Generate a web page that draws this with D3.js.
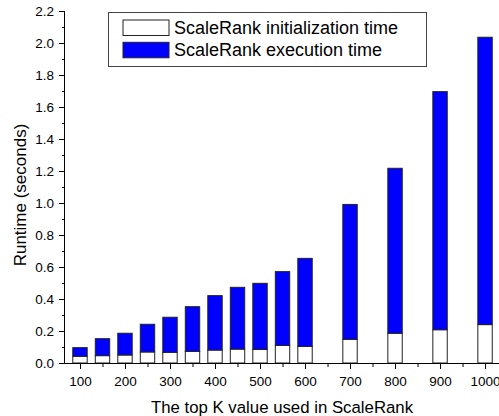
<!DOCTYPE html>
<html>
<head>
<meta charset="utf-8">
<script src="https://cdn.jsdelivr.net/npm/d3@7"></script>
<style>
body { margin: 0; background: #fff; }
text { font-family: "Liberation Sans", Arial, sans-serif; fill: #000; }
</style>
</head>
<body>
<div id="chart"></div>
<script>
// top K values (categories)
var kValues = [100, 150, 200, 250, 300, 350, 400, 450, 500, 550, 600, 700, 800, 900, 1000];
// runtime in seconds
var initTime = [0.042, 0.046, 0.050, 0.069, 0.067, 0.073, 0.081, 0.087, 0.085, 0.110, 0.104, 0.148, 0.186, 0.208, 0.240];
var execTime = [0.054, 0.106, 0.136, 0.173, 0.219, 0.279, 0.340, 0.386, 0.413, 0.461, 0.550, 0.843, 1.031, 1.488, 1.796];
var xMajorTicks = [100, 200, 300, 400, 500, 600, 700, 800, 900, 1000];
var xMinorTicks = [150, 250, 350, 450, 550, 650, 750, 850, 950];
var yMajorTicks = [0, 0.2, 0.4, 0.6, 0.8, 1.0, 1.2, 1.4, 1.6, 1.8, 2.0, 2.2];
var yMinorTicks = [0.1, 0.3, 0.5, 0.7, 0.9, 1.1, 1.3, 1.5, 1.7, 1.9, 2.1];
var seriesNames = ["ScaleRank initialization time", "ScaleRank execution time"];
var seriesColors = ["#ffffff", "#0000ff"];

var W = 499, H = 416;
var margin = {top: 11, right: 0, bottom: 53, left: 65};
var width = W - margin.left - margin.right,
    height = H - margin.top - margin.bottom;

var svg = d3.select("#chart").append("svg")
    .attr("width", W)
    .attr("height", H);

var g = svg.append("g")
    .attr("transform", "translate(" + margin.left + "," + margin.top + ")");

var x = d3.scaleLinear().domain([66.7, 1031]).range([0, width]);
var y = d3.scaleLinear().domain([0, 2.2]).range([height, 0]);
var barW = x(132) - x(100);

// stack the two series
var rows = kValues.map(function(k, i){
    return {k: k, init: initTime[i], exec: execTime[i]};
});
var stack = d3.stack().keys(["init", "exec"]);
var layers = stack(rows);

g.selectAll(".layer").data(layers)
  .enter().append("g")
    .attr("class", "layer")
    .attr("fill", function(d, i){ return seriesColors[i]; })
  .selectAll("rect").data(function(d){ return d; })
  .enter().append("rect")
    .attr("x", function(d){ return x(d.data.k) - barW/2; })
    .attr("y", function(d){ return y(d[1]); })
    .attr("width", barW)
    .attr("height", function(d){ return y(d[0]) - y(d[1]); })
    .attr("stroke", "#222")
    .attr("stroke-width", 1);

// axes
var fmt = d3.format(".1f");
var yAxis = g.append("g")
    .call(d3.axisLeft(y).tickValues(yMajorTicks).tickFormat(fmt).tickSize(6).tickPadding(5));
g.append("g")
    .call(d3.axisLeft(y).tickValues(yMinorTicks).tickFormat("").tickSize(3));

var xAxis = g.append("g")
    .attr("transform", "translate(0," + height + ")")
    .call(d3.axisBottom(x).tickValues(xMajorTicks).tickFormat(d3.format("d")).tickSize(6).tickPadding(7));
g.append("g")
    .attr("transform", "translate(0," + height + ")")
    .call(d3.axisBottom(x).tickValues(xMinorTicks).tickFormat("").tickSize(4));

g.selectAll(".domain").remove();
g.append("line")
    .attr("x1", -6).attr("x2", width)
    .attr("y1", height + 0.5).attr("y2", height + 0.5)
    .attr("stroke", "#000");
g.append("line")
    .attr("x1", -0.5).attr("x2", -0.5)
    .attr("y1", 0).attr("y2", height)
    .attr("stroke", "#000");

g.selectAll(".tick line").attr("stroke", "#000");
g.selectAll(".tick text")
    .style("font-family", '"Liberation Sans", Arial, sans-serif')
    .style("font-size", "13.5px")
    .attr("fill", "#000");

// axis titles
svg.append("text")
    .attr("x", margin.left + width/2)
    .attr("y", 413)
    .attr("text-anchor", "middle")
    .style("font-size", "16.8px")
    .text("The top K value used in ScaleRank");

svg.append("text")
    .attr("transform", "translate(26,195) rotate(-90)")
    .attr("text-anchor", "middle")
    .style("font-size", "17px")
    .text("Runtime (seconds)");

// legend
var legend = svg.append("g");
legend.append("rect")
    .attr("x", 108.5).attr("y", 12.5)
    .attr("width", 318).attr("height", 54)
    .attr("fill", "#fff")
    .attr("stroke", "#444");

var items = legend.selectAll(".item").data(seriesNames)
  .enter().append("g")
    .attr("class", "item")
    .attr("transform", function(d, i){ return "translate(123," + (20 + i*22.3) + ")"; });
items.append("rect")
    .attr("width", 46).attr("height", 15.5)
    .attr("fill", function(d, i){ return seriesColors[i]; })
    .attr("stroke", "#222");
items.append("text")
    .attr("x", 51)
    .attr("y", 14)
    .style("font-size", "18px")
    .text(function(d){ return d; });
</script>
</body>
</html>
